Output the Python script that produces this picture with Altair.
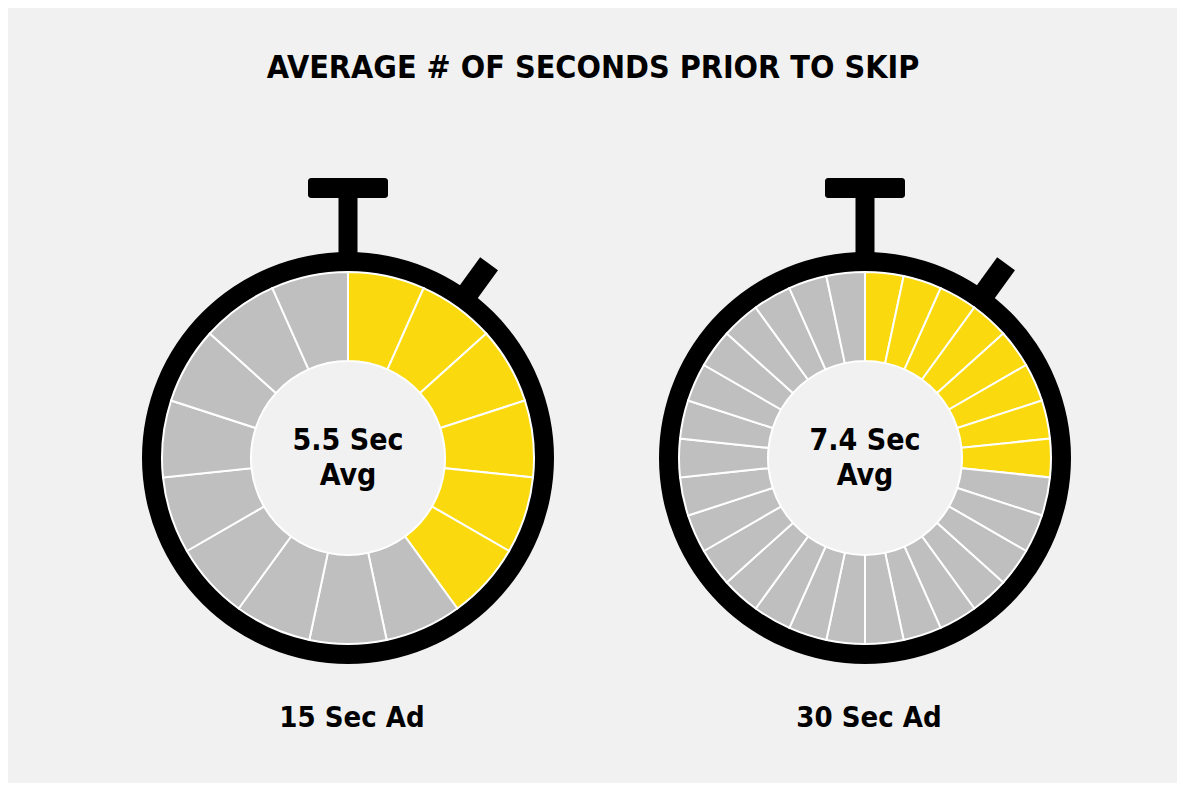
import math
import altair as alt
import pandas as pd

# ---- data ----
ad_lengths = [15, 30]              # seconds in each ad = number of dial segments
avg_seconds = [5.5, 7.4]           # average seconds watched before skipping
ad_labels = ["15 Sec Ad", "30 Sec Ad"]
avg_labels = ["5.5 Sec", "7.4 Sec"]
sub_label = "Avg"
title_text = "AVERAGE # OF SECONDS PRIOR TO SKIP"

# ---- style ----
YELLOW = "#FADA0F"
GRAY = "#BFBFBF"
BG = "#F1F1F1"
FONT = "DejaVu Sans Condensed, Roboto Condensed, Liberation Sans Narrow, Roboto, sans-serif"

W, H = 1169, 775
centers = [(340, 450), (857, 450)]
R_IN, R_OUT, RING_OUT = 97, 186, 206

one = pd.DataFrame({"k": [0]})
layers = []

for k in range(2):
    cx, cy = centers[k]
    n = ad_lengths[k]
    filled = math.ceil(avg_seconds[k])
    df = pd.DataFrame({
        "sec": list(range(n)),
        "one": [1] * n,
        "state": ["watched" if i < filled else "remaining" for i in range(n)],
    })

    ang = math.radians(36)
    r0, r1 = 195, 240
    button = alt.Chart(one).mark_rule(color="black", strokeWidth=22, strokeCap="butt").encode(
        x=alt.value(cx + r0 * math.sin(ang)), y=alt.value(cy - r0 * math.cos(ang)),
        x2=alt.value(cx + r1 * math.sin(ang)), y2=alt.value(cy - r1 * math.cos(ang)),
    )
    stem = alt.Chart(one).mark_rect(color="black").encode(
        x=alt.value(cx - 9.5), x2=alt.value(cx + 9.5),
        y=alt.value(cy - 262), y2=alt.value(cy - 200),
    )
    bar = alt.Chart(one).mark_rect(color="black", cornerRadius=3).encode(
        x=alt.value(cx - 40), x2=alt.value(cx + 40),
        y=alt.value(cy - 280), y2=alt.value(cy - 260),
    )
    ring = alt.Chart(one).mark_arc(
        color="black", radius=RING_OUT, radius2=R_OUT, theta=0, theta2=2 * math.pi
    ).encode(x=alt.value(cx), y=alt.value(cy))

    seg = alt.Chart(df).mark_arc(stroke="white", strokeWidth=2, radius=R_OUT, radius2=R_IN).encode(
        theta=alt.Theta("one:Q", stack=True),
        order=alt.Order("sec:Q"),
        color=alt.Color("state:N",
                        scale=alt.Scale(domain=["watched", "remaining"], range=[YELLOW, GRAY]),
                        legend=None),
        x=alt.value(cx), y=alt.value(cy),
    )

    txt_df = pd.DataFrame({"avg": [avg_labels[k]], "sub": [sub_label], "lab": [ad_labels[k]]})
    t1 = alt.Chart(txt_df).mark_text(font=FONT, fontWeight="bold", fontSize=30, color="black",
                                     baseline="alphabetic", align="center").encode(
        text="avg:N", x=alt.value(cx), y=alt.value(cy - 8))
    t2 = alt.Chart(txt_df).mark_text(font=FONT, fontWeight="bold", fontSize=30, color="black",
                                     baseline="alphabetic", align="center").encode(
        text="sub:N", x=alt.value(cx), y=alt.value(cy + 27))
    t3 = alt.Chart(txt_df).mark_text(font=FONT, fontWeight="bold", fontSize=29, color="black",
                                     baseline="alphabetic", align="center").encode(
        text="lab:N", x=alt.value(cx + 4), y=alt.value(719))

    layers += [button, stem, bar, ring, seg, t1, t2, t3]

title_df = pd.DataFrame({"t": [title_text]})
title = alt.Chart(title_df).mark_text(font=FONT, fontWeight="bold", fontSize=32, color="black",
                                      baseline="alphabetic", align="center").encode(
    text="t:N", x=alt.value(585), y=alt.value(70))
layers.append(title)

chart = alt.layer(*layers).resolve_scale(theta="independent", color="shared").properties(
    width=W, height=H, autosize=alt.AutoSizeParams(type="none"), padding=0, background=BG
).configure_view(stroke=None)

chart.save("out.html", embed_options={"renderer": "svg", "actions": False})
